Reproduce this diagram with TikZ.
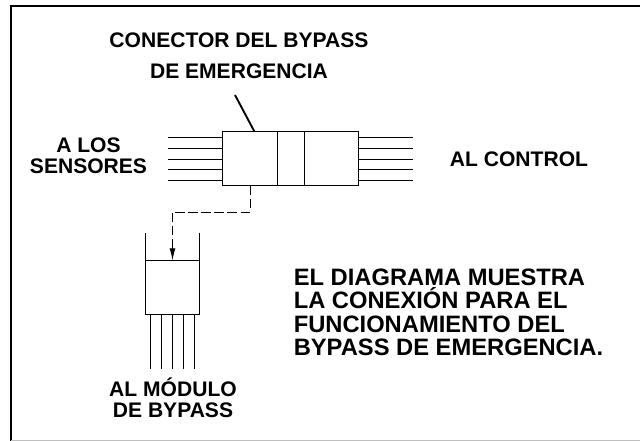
\documentclass[tikz,border=0pt]{standalone}
\usepackage{fontspec}
\setmainfont{Liberation Sans}
\usetikzlibrary{arrows.meta}
\begin{document}
\begin{tikzpicture}[x=0.75pt,y=-0.75pt]
    \tikzset{
        wire/.style={draw=black,line width=0.7pt},
        block/.style={wire,inner sep=0pt,outer sep=0pt,anchor=north west},
        label/.style={font=\bfseries\fontsize{15.8}{16}\selectfont,align=center,inner sep=0pt},
        note/.style={font=\bfseries\fontsize{17.8}{17.6}\selectfont,align=left,inner sep=0pt,anchor=north west}
    }
    \useasboundingbox (0,0) rectangle (640,441);
    \draw[line width=1.5pt] (11,441) -- (11,5.8) -- (640,5.8);
    \draw[black!25,line width=0.8pt] (11,440.5) -- (640,440.5);
    % conector
    \node[block,minimum width=101.7pt,minimum height=40.7pt] (conector) at (222.7,131.7) {};
    \coordinate (div1) at (277.3,131.7);
    \coordinate (div2) at (304.3,131.7);
    \draw[wire] (div1) -- (277.3,186);
    \draw[wire] (div2) -- (304.3,186);
    \foreach \y in {137.5,148.3,159,169.7,180.5}
        \draw[wire] (168,\y) -- (222.7,\y)
                    (358.3,\y) -- (413,\y);
    % modulo
    \node[block,minimum width=40.8pt,minimum height=41pt] (modulo) at (145.3,260.3) {};
    \draw[wire] (modulo.north west) -- ++(0,-27.6);
    \draw[wire] (modulo.north east) -- ++(0,-27.6);
    \foreach \x in {150.3,161.3,172.3,183,194}
        \draw[wire] (\x,315) -- (\x,369.3);
    % dashed link
    \coordinate (bend1) at (250,212);
    \coordinate (bend2) at (172.5,212);
    \draw[wire,dash pattern=on 7pt off 2.8pt] (250,186) -- (bend1) -- (bend2) -- (172.5,245);
    \draw[wire,-{Latex[length=9pt,width=4.5pt]}] (172.5,245) -- (modulo.north);
    % labels
    \node[label] (titulo1) at (239,40) {CONECTOR DEL BYPASS};
    \node[label] (titulo2) at (239,71) {DE EMERGENCIA};
    \node[label] (sensores) at (88.5,155.5) {A LOS\\SENSORES};
    \node[label] (control) at (519,159) {AL CONTROL};
    \node[label] (bypass) at (173,398) {AL MÓDULO\\DE BYPASS};
    \node[note] (nota) at (293.5,268.5) {EL DIAGRAMA MUESTRA\\LA CONEXIÓN PARA EL\\FUNCIONAMIENTO DEL\\BYPASS DE EMERGENCIA.};
    \coordinate (guia) at (235,95);
    \draw[wire,line width=1.4pt] (guia) -- (254.5,131.7);
\end{tikzpicture}
\end{document}
